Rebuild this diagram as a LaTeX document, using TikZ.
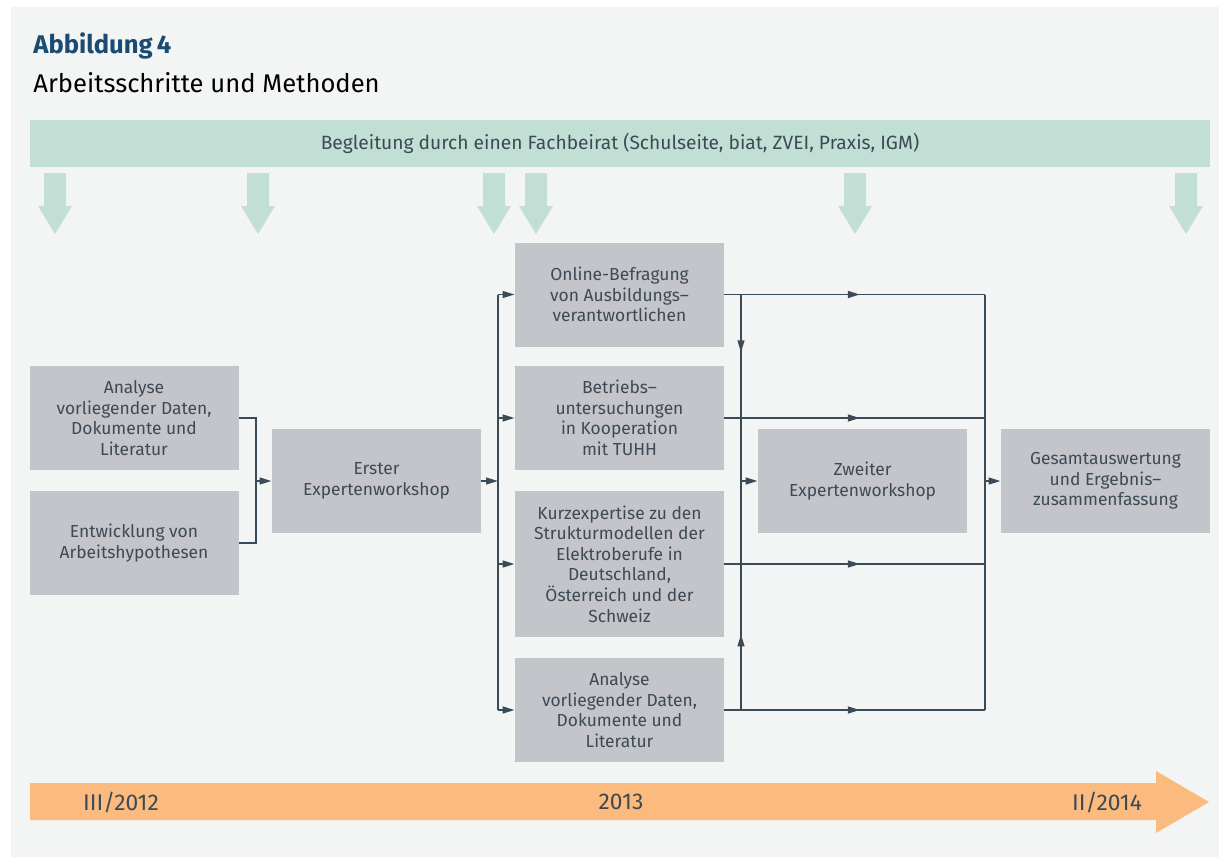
\documentclass[tikz,border=0pt]{standalone}
\usepackage{fontspec}
\setmainfont{Fira Sans}
\usetikzlibrary{arrows.meta,decorations.markings}
\definecolor{hintergrund}{HTML}{F3F5F5}
\definecolor{beirat}{HTML}{C2DFD5}
\definecolor{kasten}{HTML}{C4C5CA}
\definecolor{linie}{HTML}{3A4A56}
\definecolor{schrift}{HTML}{3D4A55}
\definecolor{zeit}{HTML}{FBBB7F}
\definecolor{titelblau}{HTML}{1B4A73}
\begin{document}
\begin{tikzpicture}[
    x=0.5pt, y=-0.5pt,
    >={Triangle[length=6pt,width=3.4pt]},
    schritt/.style={fill=kasten, text=schrift, minimum width=104.5pt, minimum height=52pt,
        inner sep=0pt, align=center, font=\fontsize{8.7}{10.3}\selectfont},
    verbindung/.style={draw=linie, line width=0.9pt},
    pfeil bei/.style={postaction={decorate},
        decoration={markings, mark=at position #1 with {\arrow{>}}}}
]
\useasboundingbox (0,0) rectangle (1219,857);
\fill[white] (0,0) rectangle (1219,857);
\fill[hintergrund] (11,7) rectangle (1219,857);

% Titel
\node[anchor=base west, inner sep=0pt, text=titelblau, font=\fontsize{12.8}{15}\selectfont\bfseries]
    (titel) at (33,53) {Abbildung\,4};
\node[anchor=base west, inner sep=0pt, font=\fontsize{12.8}{15}\selectfont]
    (untertitel) at (33,92) {Arbeitsschritte und Methoden};

% Fachbeirat
\node[fill=beirat, text=schrift, minimum width=590pt, minimum height=23.5pt, inner sep=0pt,
    font=\fontsize{9.6}{11}\selectfont] (beirat) at (620,143.5)
    {Begleitung durch einen Fachbeirat (Schulseite, biat, ZVEI, Praxis, IGM)};
\foreach \x in {55,258,494,536,855,1186}
    \fill[beirat] (\x-11,173) -- (\x+11,173) -- (\x+11,206) -- (\x+17,206)
        -- (\x,234) -- (\x-17,206) -- (\x-11,206) -- cycle;

% Arbeitsschritte
\node[schritt] (a1) at (134,418) {Analyse\\vorliegender Daten,\\Dokumente und\\Literatur};
\node[schritt] (a2) at (134,543) {Entwicklung von\\Arbeitshypothesen};
\node[schritt] (erster) at (376.5,481) {Erster\\Expertenworkshop};
\node[schritt] (b1) at (619.5,294.5) {Online-Befragung\\von Ausbildungs–\\verantwortlichen};
\node[schritt] (b2) at (619.5,418) {Betriebs–\\untersuchungen\\in Kooperation\\mit TUHH};
\node[schritt, minimum height=73pt] (b3) at (619.5,564)
    {Kurzexpertise zu den\\Strukturmodellen der\\Elektroberufe in\\Deutschland,\\Österreich und der\\Schweiz};
\node[schritt] (b4) at (619.5,710) {Analyse\\vorliegender Daten,\\Dokumente und\\Literatur};
\node[schritt] (zweiter) at (862.5,481) {Zweiter\\Expertenworkshop};
\node[schritt] (gesamt) at (1105.5,481) {Gesamtauswertung\\und Ergebnis–\\zusammenfassung};

% Verbindungen
\coordinate (kl) at (256,481);
\coordinate (ev) at (498,481);
\coordinate (lv) at (741,481);
\coordinate (rv) at (985,481);
\draw[verbindung] (a1.east) -| (kl) |- (a2.east);
\draw[verbindung,->] (kl) -- (erster.west);
\draw[verbindung,->] (erster.east) -- (ev);
\draw[verbindung] (ev |- b1.west) -- (ev |- b4.west);
\foreach \n in {b1,b2,b3,b4} {
    \draw[verbindung,->] (ev |- \n.west) -- (\n.west);
    \draw[verbindung, pfeil bei=0.52] (\n.east) -- (rv |- \n.east);
}
\draw[verbindung, pfeil bei=0.31] (lv |- b1.east) -- (lv);
\draw[verbindung, pfeil bei=0.33] (lv |- b4.east) -- (lv);
\draw[verbindung,->] (lv) -- (zweiter.west);
\draw[verbindung] (rv |- b1.east) -- (rv |- b4.east);
\draw[verbindung,->] (rv) -- (gesamt.west);

% Zeitachse
\fill[zeit] (30,783) -- (1156,783) -- (1156,771) -- (1209,802) -- (1156,833)
    -- (1156,820) -- (30,820) -- cycle;
\node[text=schrift, font=\fontsize{11.4}{13}\selectfont] (z1) at (121,802) {III/2012};
\node[text=schrift, font=\fontsize{11.4}{13}\selectfont] (z2) at (621,802) {2013};
\node[text=schrift, font=\fontsize{11.4}{13}\selectfont] (z3) at (1107,802) {II/2014};
\end{tikzpicture}
\end{document}
